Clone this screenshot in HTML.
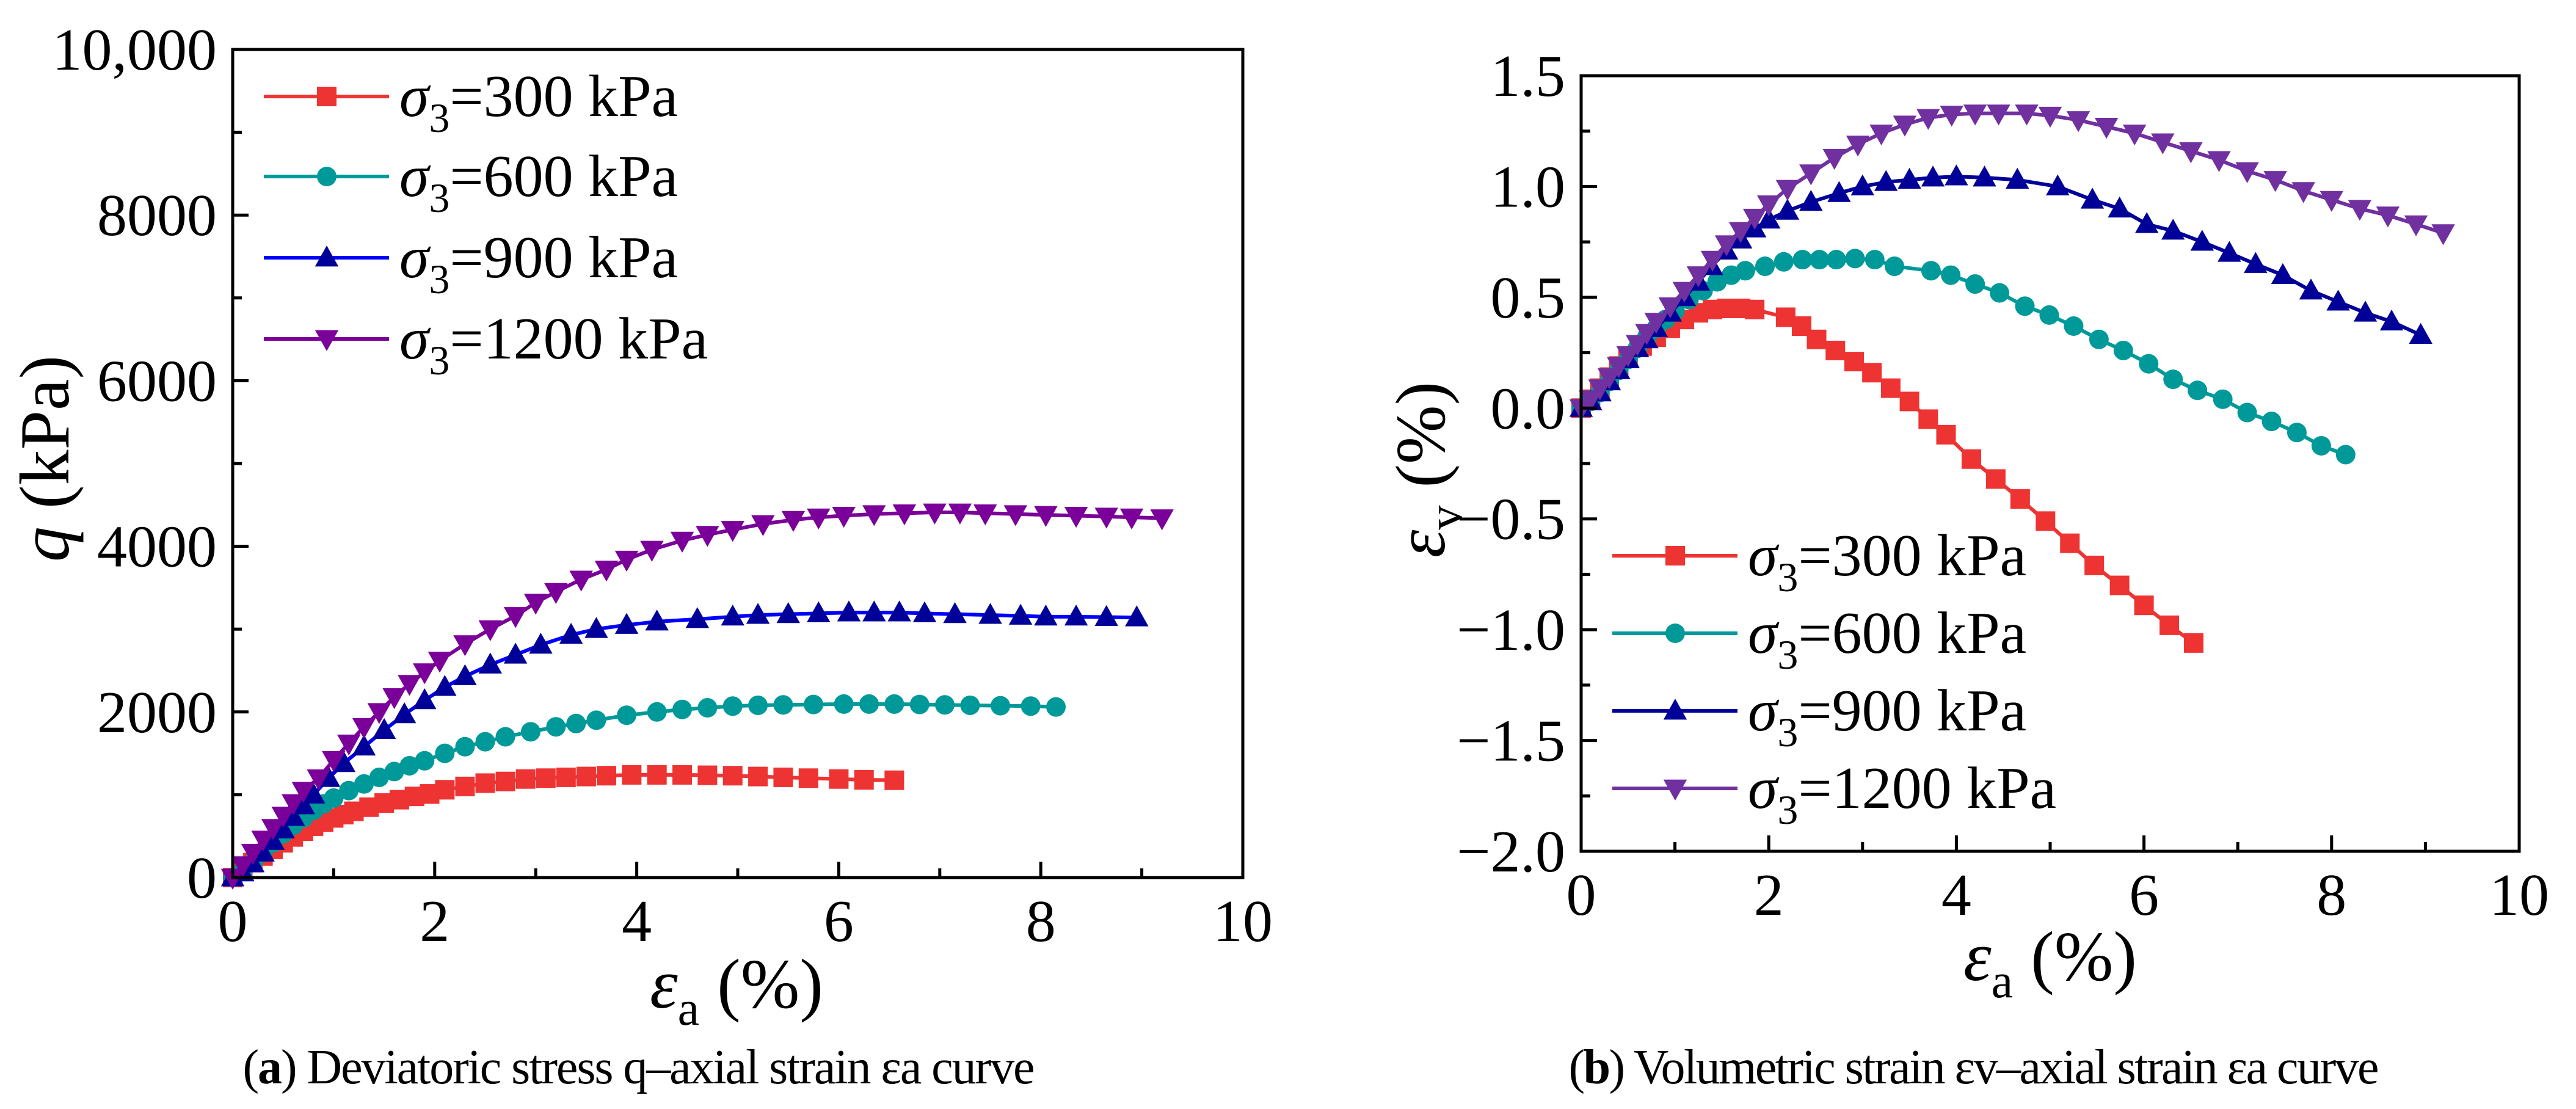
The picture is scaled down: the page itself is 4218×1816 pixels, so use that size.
<!DOCTYPE html>
<html><head><meta charset="utf-8"><style>
html,body{margin:0;padding:0;background:#fff}
svg{display:block}
text{font-family:"Liberation Serif",serif;fill:#000}
</style></head><body>
<svg id="fig" width="4218" height="1816" viewBox="0 0 4218 1816" xmlns="http://www.w3.org/2000/svg">
<g id="pa"></g>
<g id="pb"></g>
<text x="1046" y="1774" font-size="80" text-anchor="middle" textLength="1297">(<tspan font-weight="bold">a</tspan>) Deviatoric stress q–axial strain εa curve</text>
<text x="3232" y="1774" font-size="80" text-anchor="middle" textLength="1327">(<tspan font-weight="bold">b</tspan>) Volumetric strain εv–axial strain εa curve</text>
</svg>
<script>
const seriesNames=["σ3=300 kPa","σ3=600 kPa","σ3=900 kPa","σ3=1200 kPa"];
const xTicks=[0,2,4,6,8,10];
const qTicks=[0,2000,4000,6000,8000,10000];
const qTickLabels=["0","2000","4000","6000","8000","10,000"];
const evTicks=[-2.0,-1.5,-1.0,-0.5,0.0,0.5,1.0,1.5];
const evTickLabels=["−2.0","−1.5","−1.0","−0.5","0.0","0.5","1.0","1.5"];
// Panel a: q vs axial strain
const qx300=[0,0.1,0.2,0.3,0.4,0.5,0.6,0.7,0.8,0.9,1.0,1.1,1.2,1.35,1.5,1.65,1.8,1.95,2.1,2.3,2.5,2.7,2.9,3.1,3.3,3.5,3.7,3.95,4.2,4.45,4.7,4.95,5.2,5.45,5.7,6.0,6.25,6.55];
const qy300=[0,100,180,260,340,420,490,560,620,670,720,760,800,850,900,940,980,1010,1060,1100,1140,1160,1190,1200,1210,1220,1230,1240,1240,1240,1235,1230,1220,1210,1200,1190,1180,1175];
const qx600=[0,0.1,0.2,0.3,0.4,0.5,0.6,0.7,0.8,0.9,1.0,1.15,1.3,1.45,1.6,1.75,1.9,2.1,2.3,2.5,2.7,2.95,3.2,3.4,3.6,3.9,4.2,4.45,4.7,4.95,5.2,5.45,5.75,6.05,6.3,6.55,6.8,7.05,7.3,7.6,7.9,8.15];
const qy600=[0,80,180,300,420,530,630,720,810,890,960,1050,1130,1210,1280,1350,1410,1500,1580,1640,1700,1760,1820,1860,1900,1960,2000,2030,2050,2070,2080,2085,2090,2095,2095,2095,2090,2085,2080,2075,2070,2060];
const qx900=[0,0.1,0.2,0.3,0.4,0.5,0.6,0.7,0.8,0.95,1.1,1.3,1.5,1.7,1.9,2.1,2.3,2.55,2.8,3.05,3.35,3.6,3.9,4.2,4.6,4.95,5.2,5.5,5.8,6.1,6.35,6.6,6.85,7.15,7.5,7.8,8.05,8.35,8.65,8.95];
const qy900=[0,60,170,300,440,580,730,870,1000,1200,1380,1580,1780,1970,2140,2300,2430,2570,2690,2810,2930,3000,3050,3090,3120,3150,3170,3180,3190,3200,3200,3200,3190,3180,3170,3160,3150,3150,3145,3140];
const qx1200=[0,0.1,0.2,0.3,0.4,0.5,0.6,0.7,0.85,1.0,1.15,1.3,1.45,1.6,1.75,1.9,2.05,2.3,2.55,2.8,3.0,3.2,3.45,3.7,3.9,4.15,4.45,4.7,4.95,5.25,5.55,5.8,6.05,6.35,6.65,6.95,7.2,7.45,7.75,8.05,8.35,8.65,8.9,9.2];
const qy1200=[0,150,300,460,600,750,900,1050,1200,1420,1620,1820,2000,2180,2340,2480,2620,2820,3000,3160,3320,3450,3600,3720,3840,3960,4070,4140,4200,4270,4320,4350,4370,4390,4400,4410,4410,4400,4390,4380,4370,4360,4350,4340];
// Panel b: volumetric strain vs axial strain
const vx300=[0,0.1,0.2,0.3,0.4,0.5,0.65,0.8,0.95,1.1,1.25,1.4,1.55,1.7,1.85,2.18,2.35,2.51,2.71,2.91,3.1,3.3,3.5,3.7,3.89,4.16,4.42,4.68,4.95,5.21,5.47,5.74,6.0,6.27,6.53];
const vy300=[0,0.04,0.09,0.14,0.19,0.23,0.28,0.32,0.36,0.40,0.43,0.445,0.45,0.45,0.445,0.41,0.37,0.31,0.26,0.21,0.16,0.09,0.03,-0.05,-0.12,-0.23,-0.32,-0.41,-0.51,-0.61,-0.71,-0.80,-0.89,-0.98,-1.06];
const vx600=[0,0.1,0.2,0.3,0.4,0.5,0.6,0.7,0.8,0.9,1.0,1.15,1.3,1.45,1.6,1.75,1.96,2.16,2.36,2.54,2.72,2.92,3.13,3.34,3.73,3.94,4.2,4.46,4.73,4.99,5.25,5.52,5.78,6.05,6.31,6.57,6.84,7.1,7.36,7.63,7.89,8.15];
const vy600=[0,0.03,0.07,0.12,0.17,0.22,0.27,0.32,0.36,0.40,0.44,0.49,0.53,0.57,0.60,0.62,0.64,0.66,0.67,0.67,0.67,0.675,0.67,0.64,0.62,0.60,0.56,0.52,0.46,0.42,0.37,0.31,0.26,0.20,0.13,0.08,0.04,-0.02,-0.06,-0.11,-0.17,-0.21];
const vx900=[0,0.1,0.2,0.3,0.4,0.5,0.6,0.7,0.8,0.95,1.1,1.25,1.39,1.55,1.7,1.85,2.0,2.2,2.45,2.75,3.0,3.25,3.5,3.75,4.0,4.3,4.65,5.08,5.45,5.74,6.03,6.31,6.62,6.91,7.19,7.48,7.78,8.07,8.36,8.64,8.95];
const vy900=[0,0.03,0.07,0.12,0.17,0.22,0.27,0.31,0.36,0.43,0.50,0.57,0.64,0.71,0.76,0.81,0.85,0.89,0.93,0.97,1.00,1.02,1.03,1.04,1.045,1.04,1.03,1.00,0.94,0.90,0.83,0.80,0.75,0.70,0.65,0.60,0.53,0.48,0.43,0.39,0.33];
const vx1200=[0,0.1,0.2,0.3,0.4,0.5,0.6,0.7,0.8,0.95,1.1,1.25,1.4,1.55,1.7,1.85,2.0,2.2,2.45,2.7,2.95,3.2,3.45,3.7,3.95,4.2,4.45,4.75,5.0,5.3,5.6,5.9,6.2,6.5,6.8,7.1,7.4,7.7,8.0,8.3,8.6,8.9,9.19];
const vy1200=[0,0.04,0.09,0.14,0.19,0.24,0.29,0.34,0.39,0.46,0.53,0.60,0.67,0.74,0.80,0.86,0.92,0.99,1.06,1.13,1.19,1.24,1.28,1.31,1.325,1.33,1.33,1.33,1.32,1.30,1.27,1.24,1.20,1.16,1.12,1.07,1.03,0.98,0.94,0.90,0.87,0.83,0.79];

const NS="http://www.w3.org/2000/svg";
function mk(tag,attrs,parent){const e=document.createElementNS(NS,tag);for(const k in attrs)e.setAttribute(k,attrs[k]);parent.appendChild(e);return e;}
function marker(g,type,cx,cy,s,col){
  let e;
  if(type==="sq") e=mk("rect",{x:cx-s/2,y:cy-s/2,width:s,height:s,fill:col},g);
  else if(type==="ci") e=mk("circle",{cx:cx,cy:cy,r:s/2,fill:col},g);
  else if(type==="up") e=mk("polygon",{points:`${cx},${cy-s*0.62} ${cx-s*0.6},${cy+s*0.45} ${cx+s*0.6},${cy+s*0.45}`,fill:col},g);
  else e=mk("polygon",{points:`${cx},${cy+s*0.62} ${cx-s*0.6},${cy-s*0.45} ${cx+s*0.6},${cy-s*0.45}`,fill:col},g);
  
  
}
function panel(g,cfg){
  const X=v=>cfg.L+(v-cfg.xmin)/(cfg.xmax-cfg.xmin)*(cfg.R-cfg.L);
  const Y=v=>cfg.B-(v-cfg.ymin)/(cfg.ymax-cfg.ymin)*(cfg.B-cfg.T);
  cfg.series.forEach((s,i)=>{
    const sg=mk("g",{},g);
    
    
    const pts=s.x.map((v,j)=>X(v)+","+Y(s.y[j])).join(" ");
    const pl=mk("polyline",{points:pts,fill:"none",stroke:s.line,"stroke-width":6,"stroke-linejoin":"round"},sg);
    
    
    s.x.forEach((v,j)=>marker(sg,s.m,X(v),Y(s.y[j]),32,s.mc));
  });
  const fr=mk("rect",{x:cfg.L,y:cfg.T,width:cfg.R-cfg.L,height:cfg.B-cfg.T,fill:"none",stroke:"#000","stroke-width":5},g);
  
  
  xTicks.forEach((t,i)=>{
    const x=X(t);
    const tk=mk("line",{x1:x,x2:x,y1:cfg.B,y2:cfg.B-26,stroke:"#000","stroke-width":5},g);
    
    
    if(i<xTicks.length-1){const xm=X(t+1);
      const mt=mk("line",{x1:xm,x2:xm,y1:cfg.B,y2:cfg.B-15,stroke:"#000","stroke-width":5},g);
      
      }
    const tl=mk("text",{x:x,y:cfg.B+104,"font-size":98,"text-anchor":"middle"},g);
    tl.textContent=String(t);
    
    
  });
  cfg.yt.forEach((t,i)=>{
    const y=Y(t);
    const tk=mk("line",{x1:cfg.L,x2:cfg.L+26,y1:y,y2:y,stroke:"#000","stroke-width":5},g);
    
    
    if(i<cfg.yt.length-1){const ym=Y((t+cfg.yt[i+1])/2);
      const mt=mk("line",{x1:cfg.L,x2:cfg.L+15,y1:ym,y2:ym,stroke:"#000","stroke-width":5},g);
      
      }
    const tl=mk("text",{x:cfg.L-26,y:y+33,"font-size":98,"text-anchor":"end"},g);
    tl.textContent=cfg.ytl[i];
    
    
  });
  cfg.series.forEach((s,i)=>{
    const lg=mk("g",{},g);
    
    
    const y=cfg.legY[i];
    mk("line",{x1:cfg.legX,x2:cfg.legX+205,y1:y,y2:y,stroke:s.line,"stroke-width":6},lg);
    marker(lg,s.m,cfg.legX+103,y,32,s.mc);
    const t=mk("text",{x:cfg.legX+222,y:y+32,"font-size":98},lg);
    t.innerHTML='<tspan font-style="italic">σ</tspan><tspan font-size="68" dy="26">3</tspan><tspan dy="-26">'+seriesNames[i].slice(2)+'</tspan>';
  });
}
const ca={red:"#EE3333",teal:"#009999",navy:"#000099"};
panel(document.getElementById("pa"),{L:381,R:2035,T:81,B:1437,xmin:0,xmax:10,ymin:0,ymax:10000,yt:qTicks,ytl:qTickLabels,
  legX:432,legY:[158,289,422,555],
  series:[{key:"300",x:qx300,y:qy300,m:"sq",line:ca.red,mc:ca.red},
          {key:"600",x:qx600,y:qy600,m:"ci",line:ca.teal,mc:ca.teal},
          {key:"900",x:qx900,y:qy900,m:"up",line:"#0000FF",mc:ca.navy},
          {key:"1200",x:qx1200,y:qy1200,m:"dn",line:"#7A0099",mc:"#7A0099"}]});
panel(document.getElementById("pb"),{L:2589,R:4125,T:124,B:1394,xmin:0,xmax:10,ymin:-2,ymax:1.5,yt:evTicks,ytl:evTickLabels,
  legX:2640,legY:[910,1037,1164,1291],
  series:[{key:"300",x:vx300,y:vy300,m:"sq",line:ca.red,mc:ca.red},
          {key:"600",x:vx600,y:vy600,m:"ci",line:ca.teal,mc:ca.teal},
          {key:"900",x:vx900,y:vy900,m:"up",line:ca.navy,mc:ca.navy},
          {key:"1200",x:vx1200,y:vy1200,m:"dn",line:"#7030A0",mc:"#7030A0"}]});
</script>
<svg style="position:absolute;left:0;top:0" width="4218" height="1816" xmlns="http://www.w3.org/2000/svg">
<text x="1206" y="1650" font-size="116" text-anchor="middle"><tspan font-style="italic">ε</tspan><tspan font-size="80" dy="28">a</tspan><tspan dy="-28"> (%)</tspan></text>
<text transform="translate(112,751) rotate(-90)" font-size="116" text-anchor="middle"><tspan font-style="italic">q</tspan> (kPa)</text>
<text x="3357" y="1605" font-size="116" text-anchor="middle"><tspan font-style="italic">ε</tspan><tspan font-size="80" dy="28">a</tspan><tspan dy="-28"> (%)</tspan></text>
<text transform="translate(2365,769) rotate(-90)" font-size="116" text-anchor="middle"><tspan font-style="italic">ε</tspan><tspan font-size="80" dy="28">v</tspan><tspan dy="-28"> (%)</tspan></text>
</svg>
</body></html>
